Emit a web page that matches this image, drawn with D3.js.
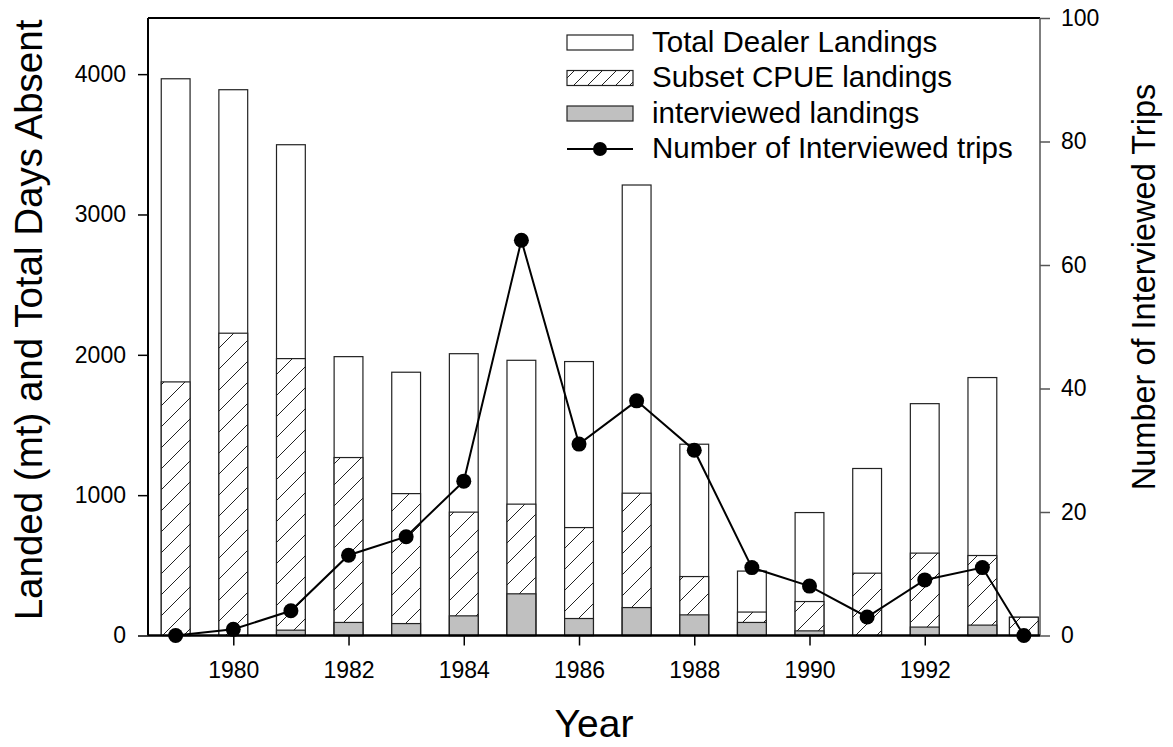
<!DOCTYPE html>
<html>
<head>
<meta charset="utf-8">
<script src="https://cdn.jsdelivr.net/npm/d3@7"></script>
<style>
  body { margin: 0; background: #fff; }
  text { font-family: "Liberation Sans", Arial, sans-serif; fill: #000; }
</style>
</head>
<body>
<script>
// values
var years = [1979, 1980, 1981, 1982, 1983, 1984, 1985, 1986, 1987, 1988, 1989, 1990, 1991, 1992, 1993, 1993.72];
var totalLandings = [3967, 3889, 3497, 1987, 1876, 2008, 1961, 1952, 3210, 1363, 459, 876, 1190, 1652, 1838, 130];
var subsetLandings = [1807, 2154, 1973, 1268, 1011, 879, 936, 769, 1014, 420, 167, 242, 444, 587, 570, 130];
var interviewedLandings = [0, 0, 38, 93, 85, 140, 297, 121, 199, 147, 93, 33, 0, 60, 74, 0];
var trips = [0, 1, 4, 13, 16, 25, 64, 31, 38, 30, 11, 8, 3, 9, 11, 0];

var xTicks = [1980, 1982, 1984, 1986, 1988, 1990, 1992];
var leftTicks = [0, 1000, 2000, 3000, 4000];
var rightTicks = [0, 20, 40, 60, 80, 100];
var legendLabels = ["Total Dealer Landings", "Subset CPUE landings", "interviewed landings", "Number of Interviewed trips"];

var config = {
    width: 1173,
    height: 747,
    left: 148,
    right: 1040,
    top: 18,
    bottom: 635.5,
    barHalf: 0.25,
    dotRadius: 7.5
}

var rows = years.map(function(y, i) {
    return {year: y, total: totalLandings[i], subset: subsetLandings[i], inter: interviewedLandings[i], trips: trips[i]};
});

var svg = d3.select("body").append("svg")
    .attr("width", config.width)
    .attr("height", config.height)

var defs = svg.append("defs");

function hatch(id, s) {
    var p = defs.append("pattern")
        .attr("id", id)
        .attr("patternUnits", "userSpaceOnUse")
        .attr("width", s).attr("height", s);
    p.append("rect").attr("width", s).attr("height", s).attr("fill", "#fff");
    p.append("path")
        .attr("d", "M-1,1 l2,-2 M0," + s + " l" + s + ",-" + s + " M" + (s - 1) + "," + (s + 1) + " l2,-2")
        .attr("stroke", "#222").attr("stroke-width", 1);
}
hatch("hatch", 21);
hatch("hatchSmall", 14);

var x = d3.scaleLinear().domain([1978.52, 1994]).range([config.left, config.right]);
var yL = d3.scaleLinear().domain([0, 4400]).range([config.bottom, config.top]);
var yR = d3.scaleLinear().domain([0, 100]).range([config.bottom, config.top]);

var plot = svg.append("g");

function bars(key, fill) {
    plot.append("g")
        .selectAll("rect")
        .data(rows.filter(function(d) { return d[key] > 0; }))
        .enter()
        .append("rect")
        .attr("x", function(d) { return x(d.year - config.barHalf); })
        .attr("width", function(d) { return x(d.year + config.barHalf) - x(d.year - config.barHalf); })
        .attr("y", function(d) { return yL(d[key]); })
        .attr("height", function(d) { return yL(0) - yL(d[key]); })
        .attr("fill", fill)
        .attr("stroke", "#222")
        .attr("stroke-width", 1.2);
}
bars("total", "#fff");
bars("subset", "url(#hatch)");
bars("inter", "#c0c0c0");

// trips line, right axis
var line = d3.line()
    .x(function(d) { return x(d.year); })
    .y(function(d) { return yR(d.trips); });

plot.append("path")
    .datum(rows)
    .attr("d", line)
    .attr("fill", "none")
    .attr("stroke", "#000")
    .attr("stroke-width", 2);

plot.append("g")
    .selectAll("circle")
    .data(rows)
    .enter()
    .append("circle")
    .attr("cx", function(d) { return x(d.year); })
    .attr("cy", function(d) { return yR(d.trips); })
    .attr("r", config.dotRadius)
    .attr("fill", "#000");

// frame: top line + right axis line
svg.append("line")
    .attr("x1", config.left).attr("x2", config.right)
    .attr("y1", config.top).attr("y2", config.top)
    .attr("stroke", "#000").attr("stroke-width", 2);

var leftAxis = svg.append("g")
    .attr("transform", "translate(" + config.left + ",0)")
    .call(d3.axisLeft(yL).tickValues(leftTicks).tickSize(10).tickPadding(12).tickFormat(d3.format("d")));

var rightAxis = svg.append("g")
    .attr("transform", "translate(" + config.right + ",0)")
    .call(d3.axisRight(yR).tickValues(rightTicks).tickSize(10).tickPadding(11).tickFormat(d3.format("d")));

var bottomAxis = svg.append("g")
    .attr("transform", "translate(0," + config.bottom + ")")
    .call(d3.axisBottom(x).tickValues(xTicks).tickSize(10).tickPadding(16).tickFormat(d3.format("d")));

[leftAxis, rightAxis, bottomAxis].forEach(function(a) {
    a.selectAll("text").style("font-size", "23px").attr("font-family", null).style("fill", "#000");
});
leftAxis.select(".domain").attr("d", "M0," + config.top + "V" + config.bottom).attr("stroke", "#000").attr("stroke-width", 2);
leftAxis.selectAll(".tick line").attr("stroke", "#000").attr("stroke-width", 1.5);
bottomAxis.select(".domain").attr("d", "M" + config.left + ",0H" + config.right).attr("stroke", "#000").attr("stroke-width", 2.5);
bottomAxis.selectAll(".tick line").attr("stroke", "#000").attr("stroke-width", 1.5);
rightAxis.select(".domain").attr("d", "M0," + config.top + "V" + config.bottom).attr("stroke", "#555").attr("stroke-width", 1.5);
rightAxis.selectAll(".tick line").attr("stroke", "#555").attr("stroke-width", 1.5);

// axis titles
svg.append("text")
    .attr("transform", "translate(42,320) rotate(-90)")
    .attr("text-anchor", "middle")
    .style("font-size", "38.5px")
    .text("Landed (mt) and Total Days Absent");

svg.append("text")
    .attr("transform", "translate(1155,287) rotate(-90)")
    .attr("text-anchor", "middle")
    .style("font-size", "32.5px")
    .text("Number of Interviewed Trips");

svg.append("text")
    .attr("x", (config.left + config.right) / 2)
    .attr("y", 737)
    .attr("text-anchor", "middle")
    .style("font-size", "39px")
    .text("Year");

// legend
var legend = svg.append("g").attr("transform", "translate(567,0)");
var rowY = [42.5, 78, 113.5, 149];
var swatchFill = ["#fff", "url(#hatchSmall)", "#c0c0c0"];

legendLabels.forEach(function(label, i) {
    var g = legend.append("g").attr("transform", "translate(0," + rowY[i] + ")");
    if (i < 3) {
        g.append("rect")
            .attr("x", 0).attr("y", -7.5)
            .attr("width", 66).attr("height", 15)
            .attr("fill", swatchFill[i])
            .attr("stroke", "#222").attr("stroke-width", 1.2);
    } else {
        g.append("line").attr("x1", 0).attr("x2", 66).attr("y1", 0).attr("y2", 0)
            .attr("stroke", "#000").attr("stroke-width", 2);
        g.append("circle").attr("cx", 33).attr("cy", 0).attr("r", 7).attr("fill", "#000");
    }
    g.append("text")
        .attr("x", 85)
        .attr("y", 9)
        .style("font-size", "29.5px")
        .text(label);
});
</script>
</body>
</html>
